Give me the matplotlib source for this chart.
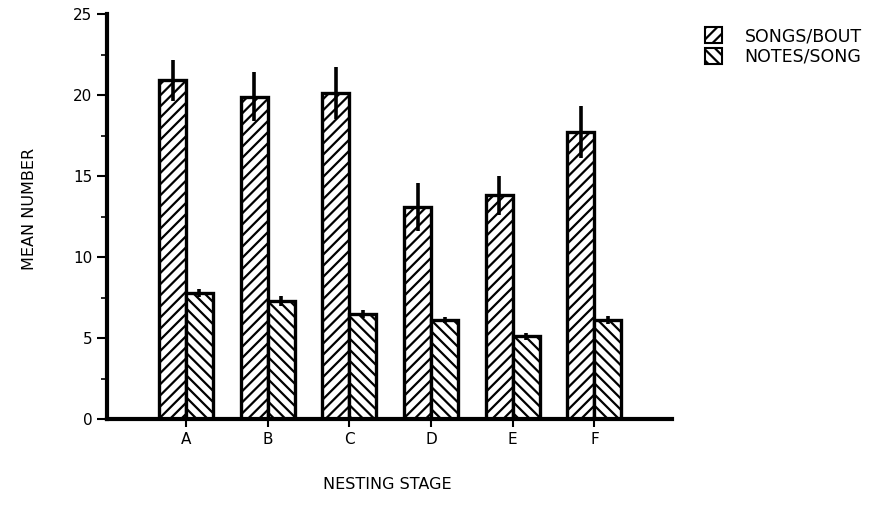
import matplotlib
matplotlib.use("Agg")
import matplotlib.pyplot as plt
import numpy as np

plt.rcParams['hatch.linewidth'] = 1.6
plt.rcParams['font.family'] = ['DejaVu Sans']

stages = ["A", "B", "C", "D", "E", "F"]
songs_per_bout = [20.9, 19.9, 20.1, 13.1, 13.8, 17.7]
songs_err = [1.25, 1.5, 1.6, 1.5, 1.2, 1.6]
notes_per_song = [7.8, 7.3, 6.5, 6.1, 5.1, 6.1]
notes_err = [0.25, 0.3, 0.25, 0.2, 0.2, 0.25]
series_names = ["SONGS/BOUT", "NOTES/SONG"]

fig = plt.figure(figsize=(8.72, 5.23), dpi=100)
ax = fig.add_axes([0.1227, 0.1988, 0.648, 0.7744])

x = np.arange(len(stages))
w = 0.33
b1 = ax.bar(x - w/2, songs_per_bout, w, facecolor='white', edgecolor='black',
            linewidth=2.4, hatch='///', label=series_names[0], zorder=2)
b2 = ax.bar(x + w/2, notes_per_song, w, facecolor='white', edgecolor='black',
            linewidth=2.4, hatch='\\\\\\', label=series_names[1], zorder=2)
ax.errorbar(x - w/2, songs_per_bout, yerr=songs_err, fmt='none', ecolor='black',
            elinewidth=2.6, capsize=0, zorder=3)
ax.errorbar(x + w/2, notes_per_song, yerr=notes_err, fmt='none', ecolor='black',
            elinewidth=2.6, capsize=0, zorder=3)

ax.set_xlim(-0.967, 5.95)
ax.set_ylim(0, 25)
ax.set_xticks(x)
ax.set_xticklabels(stages, fontsize=11)
ax.set_yticks(np.arange(0, 26, 5))
ax.set_yticks(np.arange(2.5, 25, 5), minor=True)
ax.tick_params(axis='y', which='major', length=7, width=1.5, labelsize=11, direction='out')
ax.tick_params(axis='y', which='minor', length=4, width=1.2, direction='out')
ax.tick_params(axis='x', which='major', length=6, width=1.5, labelsize=11, direction='out', pad=3)

for s in ['top', 'right']:
    ax.spines[s].set_visible(False)
ax.spines['left'].set_linewidth(3)
ax.spines['bottom'].set_linewidth(3)

fig.text(0.034, 0.6, "MEAN NUMBER", rotation=90, ha='center', va='center', fontsize=11.5)
fig.text(0.444, 0.073, "NESTING STAGE", ha='center', va='center', fontsize=11.5)

leg = fig.legend(handles=[b1, b2], labels=series_names, loc='upper left',
                 bbox_to_anchor=(0.79, 0.978), frameon=False, fontsize=12.5,
                 handlelength=1.0, handleheight=1.0, handletextpad=1.3, labelspacing=0.15)
for p in leg.get_patches():
    p.set_linewidth(1.5)

fig.savefig("out.png", dpi=100)
